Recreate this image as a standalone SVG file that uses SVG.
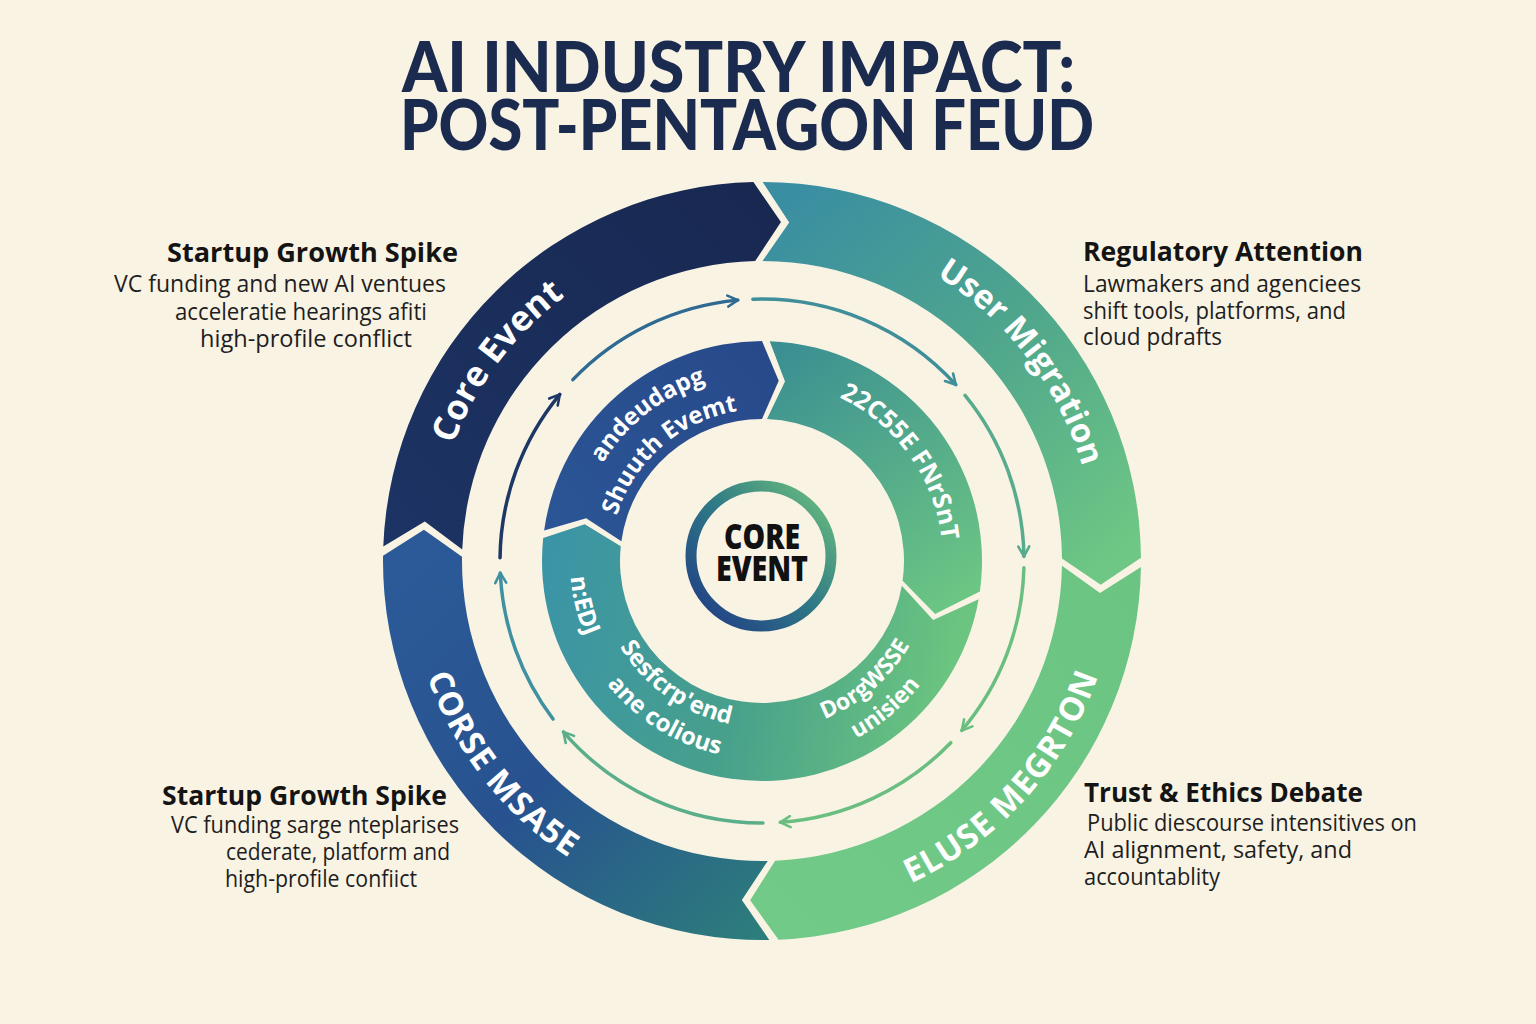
<svg xmlns="http://www.w3.org/2000/svg" width="1536" height="1024" viewBox="0 0 1536 1024">
<style>
.title{font-family:Lato,"Open Sans","Liberation Sans",sans-serif;font-weight:900;font-size:70px;fill:#1b2a4f}
.rl{font-family:"Open Sans","Noto Sans","Liberation Sans",sans-serif;font-weight:700;fill:#ffffff}
.sh{font-family:"Open Sans","Noto Sans","Liberation Sans",sans-serif;font-weight:700;font-size:27px;fill:#141414}
.sb{font-family:"Open Sans","Noto Sans","Liberation Sans",sans-serif;font-weight:400;font-size:24px;fill:#1e1e1e}
.core{font-family:"Open Sans","Noto Sans","Liberation Sans",sans-serif;font-weight:800;font-size:36px;fill:#111111}
.arc{fill:none;stroke-width:3.5;stroke-linecap:round}
</style>
<defs>
<linearGradient id="gTL" gradientUnits="userSpaceOnUse" x1="420" y1="540" x2="760" y2="200"><stop offset="0" stop-color="#1c3363"/><stop offset="1" stop-color="#182851"/></linearGradient>
<linearGradient id="gTR" gradientUnits="userSpaceOnUse" x1="790" y1="200" x2="1110" y2="560"><stop offset="0" stop-color="#3a8ea2"/><stop offset="0.5" stop-color="#4fa68c"/><stop offset="1" stop-color="#6ec784"/></linearGradient>
<linearGradient id="gBR" gradientUnits="userSpaceOnUse" x1="1140" y1="560" x2="760" y2="930"><stop offset="0" stop-color="#6bc482"/><stop offset="1" stop-color="#72ca88"/></linearGradient>
<linearGradient id="gBL" gradientUnits="userSpaceOnUse" x1="400" y1="560" x2="770" y2="920"><stop offset="0" stop-color="#2c5a98"/><stop offset="0.5" stop-color="#27528f"/><stop offset="1" stop-color="#2d7d7c"/></linearGradient>
<linearGradient id="gIB" gradientUnits="userSpaceOnUse" x1="560" y1="530" x2="770" y2="350"><stop offset="0" stop-color="#2b5595"/><stop offset="1" stop-color="#27498a"/></linearGradient>
<linearGradient id="gITR" gradientUnits="userSpaceOnUse" x1="780" y1="350" x2="960" y2="600"><stop offset="0" stop-color="#3b8f92"/><stop offset="1" stop-color="#6cc683"/></linearGradient>
<linearGradient id="gIBot" gradientUnits="userSpaceOnUse" x1="550" y1="540" x2="960" y2="620"><stop offset="0" stop-color="#3b94a6"/><stop offset="0.5" stop-color="#47a08b"/><stop offset="1" stop-color="#6bc47f"/></linearGradient>
<linearGradient id="gCore" gradientUnits="userSpaceOnUse" x1="700" y1="620" x2="830" y2="490"><stop offset="0" stop-color="#213f85"/><stop offset="0.5" stop-color="#2f7a86"/><stop offset="1" stop-color="#6cc07e"/></linearGradient>
<marker id="ah1" viewBox="0 0 14 14" refX="12" refY="7" markerWidth="14" markerHeight="14" markerUnits="userSpaceOnUse" orient="auto"><path d="M2,1.5 L12,7 L2,12.5" fill="none" stroke="#1d3766" stroke-width="2.6" stroke-linecap="round" stroke-linejoin="round"/></marker>
<marker id="ah2" viewBox="0 0 14 14" refX="12" refY="7" markerWidth="14" markerHeight="14" markerUnits="userSpaceOnUse" orient="auto"><path d="M2,1.5 L12,7 L2,12.5" fill="none" stroke="#2f6a92" stroke-width="2.6" stroke-linecap="round" stroke-linejoin="round"/></marker>
<marker id="ah3" viewBox="0 0 14 14" refX="12" refY="7" markerWidth="14" markerHeight="14" markerUnits="userSpaceOnUse" orient="auto"><path d="M2,1.5 L12,7 L2,12.5" fill="none" stroke="#3f8e9a" stroke-width="2.6" stroke-linecap="round" stroke-linejoin="round"/></marker>
<marker id="ah4" viewBox="0 0 14 14" refX="12" refY="7" markerWidth="14" markerHeight="14" markerUnits="userSpaceOnUse" orient="auto"><path d="M2,1.5 L12,7 L2,12.5" fill="none" stroke="#58ab8c" stroke-width="2.6" stroke-linecap="round" stroke-linejoin="round"/></marker>
<marker id="ah5" viewBox="0 0 14 14" refX="12" refY="7" markerWidth="14" markerHeight="14" markerUnits="userSpaceOnUse" orient="auto"><path d="M2,1.5 L12,7 L2,12.5" fill="none" stroke="#6abf80" stroke-width="2.6" stroke-linecap="round" stroke-linejoin="round"/></marker>
<marker id="ah7" viewBox="0 0 14 14" refX="12" refY="7" markerWidth="14" markerHeight="14" markerUnits="userSpaceOnUse" orient="auto"><path d="M2,1.5 L12,7 L2,12.5" fill="none" stroke="#5aae8a" stroke-width="2.6" stroke-linecap="round" stroke-linejoin="round"/></marker>
<marker id="ah8" viewBox="0 0 14 14" refX="12" refY="7" markerWidth="14" markerHeight="14" markerUnits="userSpaceOnUse" orient="auto"><path d="M2,1.5 L12,7 L2,12.5" fill="none" stroke="#3f91a2" stroke-width="2.6" stroke-linecap="round" stroke-linejoin="round"/></marker>
<path id="tpO1" d="M 435.21 606.93 A 330 330 0 0 1 716.07 234.21"/>
<path id="tpO2" d="M 805.60 229.86 A 334 334 0 0 1 1093.14 604.60"/>
<path id="tpO3" d="M 780.58 915.51 A 355 355 0 0 0 1116.51 542.42"/>
<path id="tpO4" d="M 410.64 517.86 A 354 354 0 0 0 718.86 912.36"/>
<path id="tpI1" d="M 576.39 538.21 A 187 187 0 0 1 784.79 375.39"/>
<path id="tpI2" d="M 610.37 550.40 A 152 152 0 0 1 772.60 409.37"/>
<path id="tpI3" d="M 791.56 382.43 A 181 181 0 0 1 940.57 590.56"/>
<path id="tpI4" d="M 597.42 462.11 A 192 192 0 0 0 663.11 725.58"/>
<path id="tpI5" d="M 598.52 589.83 A 166 166 0 0 0 790.83 724.48"/>
<path id="tpI6" d="M 569.07 605.54 A 198 198 0 0 0 806.54 753.93"/>
<path id="tpI7" d="M 750.14 730.59 A 170 170 0 0 0 931.59 572.86"/>
<path id="tpI8" d="M 744.48 761.24 A 201 201 0 0 0 962.24 578.52"/>
</defs>
<rect x="0" y="0" width="1536" height="1024" fill="#f9f3e4"/>
<g id="title">
<text class="title" x="402" y="92" textLength="673" lengthAdjust="spacingAndGlyphs">AI INDUSTRY IMPACT:</text>
<text class="title" x="400" y="150" textLength="694" lengthAdjust="spacingAndGlyphs">POST-PENTAGON FEUD</text>
</g>
<g id="outer-ring">
<g id="outer-core-event">
<path d="M 383.28 546.45 A 379 379 0 0 1 753.40 182.10 L 780.95 222.03 L 755.19 261.08 A 300 300 0 0 0 462.22 549.48 L 424.82 521.39 Z" fill="url(#gTL)"/>
<text class="rl" font-size="35"><textPath href="#tpO1" startOffset="50%" text-anchor="middle">Core Event</textPath></text>
</g>
<g id="outer-user-migration">
<path d="M 762.66 182.0 A 379 379 0 0 1 1140.99 557.69 L 1100.67 584.68 L 1061.99 558.38 A 300 300 0 0 0 762.52 261.0 L 789.23 222.59 Z" fill="url(#gTR)"/>
<text class="rl" font-size="33"><textPath href="#tpO2" startOffset="50%" text-anchor="middle">User Migration</textPath></text>
</g>
<g id="outer-eluse-megrton">
<path d="M 1140.95 566.95 A 379 379 0 0 1 778.53 939.64 L 750.15 900.29 L 775.09 860.71 A 300 300 0 0 0 1061.96 565.71 L 1099.99 592.95 Z" fill="url(#gBR)"/>
<text class="rl" font-size="33" letter-spacing="1"><textPath href="#tpO3" startOffset="50%" text-anchor="middle">ELUSE MEGRTON</textPath></text>
</g>
<g id="outer-corse-msase">
<path d="M 769.28 939.93 A 379 379 0 0 1 383.04 555.71 L 423.95 529.64 L 462.03 556.81 A 300 300 0 0 0 767.76 860.94 L 741.87 899.90 Z" fill="url(#gBL)"/>
<text class="rl" font-size="33" letter-spacing="1"><textPath href="#tpO4" startOffset="50%" text-anchor="middle">CORSE MSA5E</textPath></text>
</g>
</g>
<g id="connectors">
<path class="arc" stroke="#1d3766" marker-end="url(#ah1)" d="M 500.02 557.80 A 262 262 0 0 1 559.83 394.35"/>
<path class="arc" stroke="#2f6a92" marker-end="url(#ah2)" d="M 572.90 379.66 A 262 262 0 0 1 737.80 300.12"/>
<path class="arc" stroke="#3f8e9a" marker-end="url(#ah3)" d="M 752.86 299.16 A 262 262 0 0 1 955.78 384.67"/>
<path class="arc" stroke="#58ab8c" marker-end="url(#ah4)" d="M 965.04 395.41 A 262 262 0 0 1 1023.96 556.43"/>
<path class="arc" stroke="#6abf80" marker-end="url(#ah5)" d="M 1023.91 567.86 A 262 262 0 0 1 961.82 730.46"/>
<path class="arc" stroke="#6abf80" marker-end="url(#ah5)" d="M 950.78 742.67 A 262 262 0 0 1 780.28 822.36"/>
<path class="arc" stroke="#5aae8a" marker-end="url(#ah7)" d="M 762.91 823.0 A 262 262 0 0 1 563.37 731.85"/>
<path class="arc" stroke="#3f91a2" marker-end="url(#ah8)" d="M 553.03 719.04 A 262 262 0 0 1 500.27 572.89"/>
</g>
<g id="inner-ring">
<g id="inner-blue">
<path d="M 544.14 530.38 A 220 220 0 0 1 762 341 L 778.72 380.77 L 762 419 A 142 142 0 0 0 621.38 541.24 L 586.15 518.13 Z" fill="url(#gIB)"/>
<text class="rl" font-size="24"><textPath href="#tpI1" startOffset="50%" text-anchor="middle">andeudapg</textPath></text>
<text class="rl" font-size="24"><textPath href="#tpI2" startOffset="50%" text-anchor="middle">Shuuth Evemt</textPath></text>
</g>
<g id="inner-top-right">
<path d="M 769.68 341.13 A 220 220 0 0 1 979.86 591.62 L 935.09 613.92 L 902.62 580.76 A 142 142 0 0 0 766.96 419.09 L 785.0 381.47 Z" fill="url(#gITR)"/>
<text class="rl" font-size="25"><textPath href="#tpI3" startOffset="50%" text-anchor="middle">22C55E FNrSnT</textPath></text>
</g>
<g id="inner-bottom">
<path d="M 978.66 599.20 A 220 220 0 0 1 543.21 538.00 L 584.76 524.30 L 620.78 546.16 A 142 142 0 0 0 901.84 585.66 L 933.14 619.93 Z" fill="url(#gIBot)"/>
<text class="rl" font-size="24"><textPath href="#tpI4" startOffset="50%" text-anchor="middle">n:EDJ</textPath></text>
<text class="rl" font-size="24"><textPath href="#tpI5" startOffset="50%" text-anchor="middle">Sesfcrp'end</textPath></text>
<text class="rl" font-size="24"><textPath href="#tpI6" startOffset="50%" text-anchor="middle">ane colious</textPath></text>
<text class="rl" font-size="23"><textPath href="#tpI7" startOffset="50%" text-anchor="middle">DorgWSSE</textPath></text>
<text class="rl" font-size="23"><textPath href="#tpI8" startOffset="50%" text-anchor="middle">unisien</textPath></text>
</g>
</g>
<g id="core-event">
<circle cx="761" cy="556" r="70" fill="#f9f3e4" stroke="url(#gCore)" stroke-width="11"/>
<text class="core" x="762" y="549" text-anchor="middle" textLength="76" lengthAdjust="spacingAndGlyphs">CORE</text>
<text class="core" x="762" y="581" text-anchor="middle" textLength="92" lengthAdjust="spacingAndGlyphs">EVENT</text>
</g>
<g id="callout-top-left">
<text class="sh" x="167" y="262" textLength="291" lengthAdjust="spacingAndGlyphs">Startup Growth Spike</text>
<text class="sb" x="114" y="292" textLength="332" lengthAdjust="spacingAndGlyphs">VC funding and new AI ventues</text>
<text class="sb" x="175" y="320" textLength="252" lengthAdjust="spacingAndGlyphs">acceleratie hearings afiti</text>
<text class="sb" x="200" y="347" textLength="212" lengthAdjust="spacingAndGlyphs">high-profile conflict</text>
</g>
<g id="callout-top-right">
<text class="sh" x="1083" y="261" textLength="280" lengthAdjust="spacingAndGlyphs">Regulatory Attention</text>
<text class="sb" x="1083" y="292" textLength="278" lengthAdjust="spacingAndGlyphs">Lawmakers and agenciees</text>
<text class="sb" x="1083" y="319" textLength="263" lengthAdjust="spacingAndGlyphs">shift tools, platforms, and</text>
<text class="sb" x="1083" y="345" textLength="139" lengthAdjust="spacingAndGlyphs">cloud pdrafts</text>
</g>
<g id="callout-bottom-left">
<text class="sh" x="162" y="805" textLength="285" lengthAdjust="spacingAndGlyphs">Startup Growth Spike</text>
<text class="sb" x="171" y="833" textLength="288" lengthAdjust="spacingAndGlyphs">VC funding sarge nteplarises</text>
<text class="sb" x="226" y="860" textLength="224" lengthAdjust="spacingAndGlyphs">cederate, platform and</text>
<text class="sb" x="225" y="887" textLength="192" lengthAdjust="spacingAndGlyphs">high-profile confiict</text>
</g>
<g id="callout-bottom-right">
<text class="sh" x="1084" y="802" textLength="279" lengthAdjust="spacingAndGlyphs">Trust &amp; Ethics Debate</text>
<text class="sb" x="1087" y="831" textLength="330" lengthAdjust="spacingAndGlyphs">Public diescourse intensitives on</text>
<text class="sb" x="1084" y="858" textLength="268" lengthAdjust="spacingAndGlyphs">AI alignment, safety, and</text>
<text class="sb" x="1084" y="885" textLength="136" lengthAdjust="spacingAndGlyphs">accountablity</text>
</g>
</svg>
